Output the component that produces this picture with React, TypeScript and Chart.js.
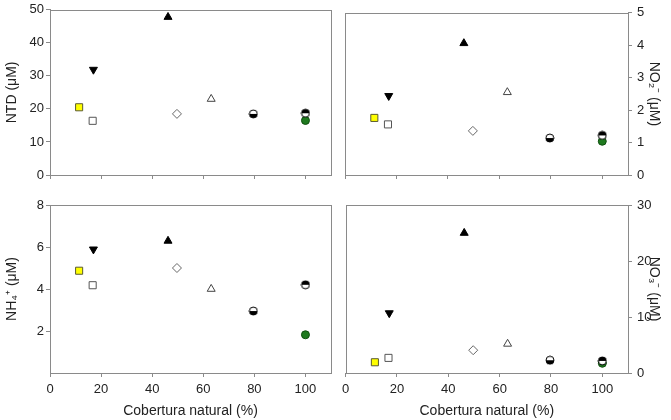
import React, { useEffect, useRef } from 'react';
import { Chart, registerables } from 'chart.js';

Chart.register(...registerables);

// ---- data ----
const markerNames = ['yellowSquare', 'downTriangle', 'openSquare', 'upTriangle', 'openDiamond', 'openTriangle', 'halfCircleBottom', 'halfCircleTop', 'greenCircle'];
const coverage = [11.4, 17, 16.7, 46.2, 49.7, 63.1, 79.6, 100, 100];
const ntdValues = [20.5, 31.9, 16.4, 47.8, 18.5, 23, 18.5, 18.7, 16.5];
const no2Values = [1.76, 2.44, 1.56, 4.06, 1.36, 2.55, 1.14, 1.22, 1.04];
const nh4Values = [4.87, 5.89, 4.18, 6.29, 5.0, 4.0, 2.95, 4.2, 1.82];
const no3Values = [1.92, 10.7, 2.7, 25, 4.07, 5.2, 2.28, 2.16, 1.74];

const xTicks = [0, 20, 40, 60, 80, 100];
const ntdTicks = [0, 10, 20, 30, 40, 50];
const no2Ticks = [0, 1, 2, 3, 4, 5];
const nh4Ticks = [2, 4, 6, 8];
const no3Ticks = [0, 10, 20, 30];

const xTitle = 'Cobertura natural (%)';
const FONT = 'Arial, "Liberation Sans", sans-serif';
const AXIS_GRAY = '#8a8a8a';
const TEXT = '#222';

function halfCircle(topBlack: boolean): HTMLCanvasElement {
  const c = document.createElement('canvas');
  c.width = 10;
  c.height = 10;
  const ctx = c.getContext('2d')!;
  ctx.beginPath();
  ctx.arc(5, 5, 4, 0, Math.PI * 2);
  ctx.fillStyle = '#fff';
  ctx.fill();
  ctx.beginPath();
  if (topBlack) ctx.arc(5, 5, 4, Math.PI, Math.PI * 2);
  else ctx.arc(5, 5, 4, 0, Math.PI);
  ctx.closePath();
  ctx.fillStyle = '#000';
  ctx.fill();
  ctx.beginPath();
  ctx.arc(5, 5, 4, 0, Math.PI * 2);
  ctx.strokeStyle = '#000';
  ctx.lineWidth = 1;
  ctx.stroke();
  return c;
}

function markerStyles(): any[] {
  return [
    { pointStyle: 'rect', radius: 5, bg: '#ffff00', border: '#5a5a30', rotation: 0 },
    { pointStyle: 'triangle', radius: 4.6, bg: '#000', border: '#000', rotation: 180 },
    { pointStyle: 'rect', radius: 5, bg: '#fff', border: '#555', rotation: 0 },
    { pointStyle: 'triangle', radius: 4.6, bg: '#000', border: '#000', rotation: 0 },
    { pointStyle: 'rectRot', radius: 4.5, bg: '#fff', border: '#666', rotation: 0 },
    { pointStyle: 'triangle', radius: 4.6, bg: '#fff', border: '#444', rotation: 0 },
    { pointStyle: halfCircle(false), radius: 4, bg: '#000', border: '#000', rotation: 0 },
    { pointStyle: halfCircle(true), radius: 4, bg: '#000', border: '#000', rotation: 0 },
    { pointStyle: 'circle', radius: 4, bg: '#1f7a1f', border: '#0f4f0f', rotation: 0 },
  ];
}

const framePlugin = {
  id: 'frame',
  afterDraw(chart: any) {
    const { ctx, chartArea } = chart;
    ctx.save();
    ctx.strokeStyle = AXIS_GRAY;
    ctx.lineWidth = 1;
    ctx.strokeRect(Math.round(chartArea.left) + 0.5, Math.round(chartArea.top) + 0.5,
      Math.round(chartArea.right - chartArea.left), Math.round(chartArea.bottom - chartArea.top));
    ctx.restore();
  },
};

type PanelProps = {
  left: number; top: number; width: number; height: number;
  values: number[]; yTicks: number[]; yMax: number; yTitle: string;
  yPos: 'left' | 'right'; showX: boolean;
  pad: { left: number; right: number; top: number; bottom: number };
  yWidth: number; xHeight: number;
};

function Panel(p: PanelProps) {
  const ref = useRef<HTMLCanvasElement>(null);
  useEffect(() => {
    const styles = markerStyles();
    const datasets = markerNames.map((name, i) => ({
      label: name,
      data: [{ x: coverage[i], y: p.values[i] }],
      pointStyle: styles[i].pointStyle,
      pointRadius: styles[i].radius,
      pointBackgroundColor: styles[i].bg,
      pointBorderColor: styles[i].border,
      pointBorderWidth: 1,
      pointRotation: styles[i].rotation,
      showLine: false,
    }));
    const chart = new Chart(ref.current!, {
      type: 'scatter',
      data: { datasets },
      options: {
        animation: false,
        responsive: false,
        layout: { padding: p.pad },
        plugins: { legend: { display: false }, tooltip: { enabled: false } },
        scales: {
          x: {
            type: 'linear', min: 0, max: 110,
            afterBuildTicks: (s: any) => { s.ticks = xTicks.map((v) => ({ value: v })); },
            afterFit: (s: any) => { s.height = p.xHeight; },
            ticks: { display: p.showX, color: TEXT, font: { family: FONT, size: 13 }, padding: 5, maxRotation: 0 },
            grid: { drawOnChartArea: false, drawTicks: true, tickLength: 4, color: AXIS_GRAY },
            border: { color: AXIS_GRAY },
            title: { display: p.showX, text: xTitle, color: TEXT, font: { family: FONT, size: 14 }, padding: { top: 0, bottom: 0 } },
          },
          y: {
            type: 'linear', position: p.yPos, min: 0, max: p.yMax,
            afterBuildTicks: (s: any) => { s.ticks = p.yTicks.map((v) => ({ value: v })); },
            afterFit: (s: any) => { s.width = p.yWidth; },
            ticks: { color: TEXT, font: { family: FONT, size: 13 }, padding: p.yPos === 'left' ? 2 : 5 },
            grid: { drawOnChartArea: false, drawTicks: true, tickLength: 4, color: AXIS_GRAY },
            border: { color: AXIS_GRAY },
            title: { display: true, text: p.yTitle, color: TEXT, font: { family: FONT, size: 14 }, padding: { top: p.yPos === 'left' ? 4 : 9, bottom: 0 } },
          },
        },
      } as any,
      plugins: [framePlugin],
    });
    return () => chart.destroy();
  }, []);
  return (
    <canvas
      ref={ref}
      width={p.width}
      height={p.height}
      style={{ position: 'absolute', left: p.left, top: p.top, width: p.width, height: p.height }}
    />
  );
}

export default function App() {
  return (
    <div style={{ position: 'absolute', left: 0, top: 0, width: 671, height: 420, background: '#fff', overflow: 'hidden' }}>
      <Panel left={0} top={0} width={337} height={190} values={ntdValues} yTicks={ntdTicks} yMax={50}
        yTitle="NTD (μM)" yPos="left" showX={false}
        pad={{ left: 0, right: 4, top: 7, bottom: 0 }} yWidth={50} xHeight={15} />
      <Panel left={337} top={0} width={334} height={190} values={no2Values} yTicks={no2Ticks} yMax={5}
        yTitle="NO₂⁻ (μM)" yPos="right" showX={false}
        pad={{ left: 8, right: 0, top: 7, bottom: 0 }} yWidth={43} xHeight={15} />
      <Panel left={0} top={190} width={337} height={230} values={nh4Values} yTicks={nh4Ticks} yMax={8}
        yTitle="NH₄⁺ (μM)" yPos="left" showX={true}
        pad={{ left: 0, right: 4, top: 15, bottom: 0 }} yWidth={50} xHeight={47} />
      <Panel left={337} top={190} width={334} height={230} values={no3Values} yTicks={no3Ticks} yMax={30}
        yTitle="NO₃⁻ (μM)" yPos="right" showX={true}
        pad={{ left: 8, right: 0, top: 15, bottom: 0 }} yWidth={43} xHeight={47} />
    </div>
  );
}
